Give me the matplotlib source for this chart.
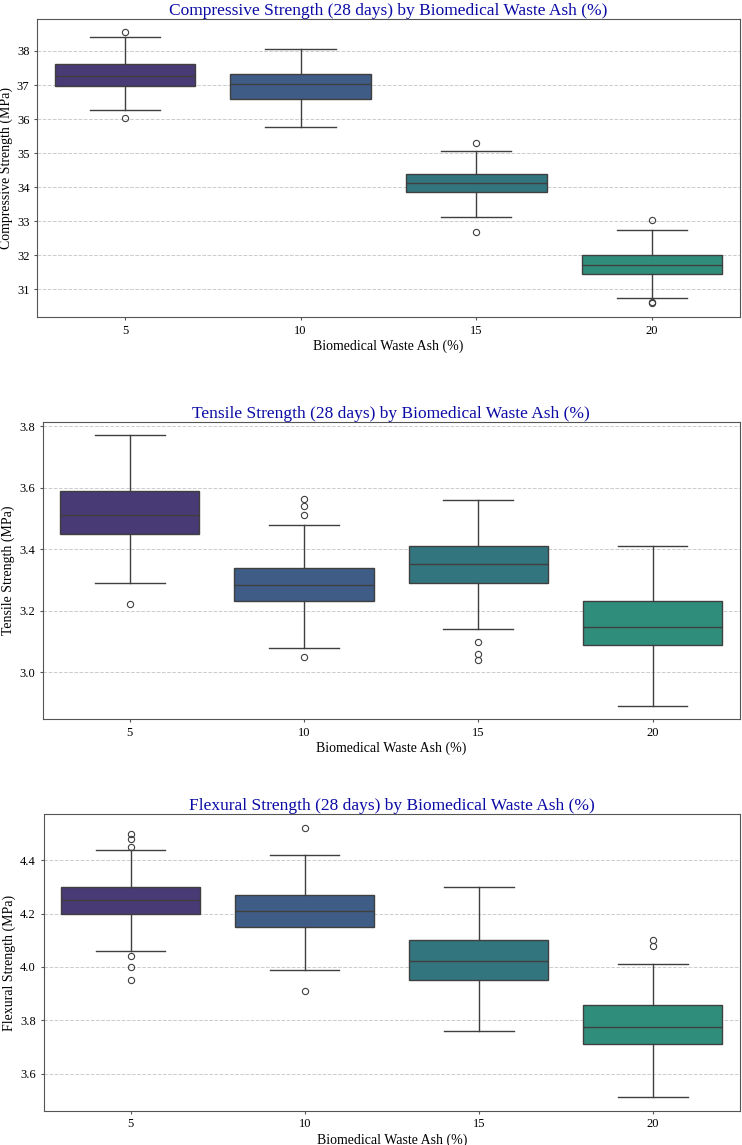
import matplotlib
matplotlib.use('Agg')
import matplotlib.pyplot as plt

plt.rcParams['font.family'] = ['Liberation Serif', 'DejaVu Serif']

ash = ['5', '10', '15', '20']
colors = ['#483a74', '#3e5c86', '#32757f', '#2f8e7b']

# compressive strength (MPa)
comp_med = [37.27, 37.03, 34.11, 31.72]
comp_q1 = [36.97, 36.60, 33.85, 31.46]
comp_q3 = [37.62, 37.32, 34.39, 32.01]
comp_lo = [36.26, 35.76, 33.11, 30.74]
comp_hi = [38.40, 38.05, 35.06, 32.75]
comp_out = [[38.56, 36.02], [], [35.30, 32.67], [33.03, 30.62, 30.58]]

# tensile strength (MPa)
tens_med = [3.51, 3.285, 3.351, 3.146]
tens_q1 = [3.449, 3.231, 3.291, 3.089]
tens_q3 = [3.589, 3.340, 3.410, 3.231]
tens_lo = [3.291, 3.080, 3.140, 2.890]
tens_hi = [3.770, 3.480, 3.560, 3.410]
tens_out = [[3.221], [3.563, 3.539, 3.51, 3.05], [3.10, 3.061, 3.04], []]

# flexural strength (MPa)
flex_med = [4.251, 4.21, 4.021, 3.776]
flex_q1 = [4.20, 4.151, 3.95, 3.71]
flex_q3 = [4.30, 4.27, 4.10, 3.857]
flex_lo = [4.06, 3.99, 3.76, 3.511]
flex_hi = [4.44, 4.42, 4.30, 4.011]
flex_out = [[4.50, 4.48, 4.45, 4.04, 4.00, 3.95], [4.52, 3.911], [], [4.10, 4.08]]

panels = [
    ('Compressive Strength (28 days) by Biomedical Waste Ash (%)', 'Compressive Strength (MPa)',
     comp_med, comp_q1, comp_q3, comp_lo, comp_hi, comp_out, (30.18, 38.94),
     [0.050, 0.7231, 0.947, 0.2603]),
    ('Tensile Strength (28 days) by Biomedical Waste Ash (%)', 'Tensile Strength (MPa)',
     tens_med, tens_q1, tens_q3, tens_lo, tens_hi, tens_out, (2.848, 3.814),
     [0.0574, 0.3718, 0.9396, 0.2599]),
    ('Flexural Strength (28 days) by Biomedical Waste Ash (%)', 'Flexural Strength (MPa)',
     flex_med, flex_q1, flex_q3, flex_lo, flex_hi, flex_out, (3.461, 4.572),
     [0.0588, 0.0300, 0.9382, 0.2588]),
]

fig = plt.figure(figsize=(7.42, 11.45), dpi=100)
line_c = '#3f3f3f'

for title, ylabel, med, q1, q3, lo, hi, out, ylim, pos in panels:
    ax = fig.add_axes(pos)
    stats = []
    for i in range(len(ash)):
        stats.append({'med': med[i], 'q1': q1[i], 'q3': q3[i],
                      'whislo': lo[i], 'whishi': hi[i], 'fliers': out[i]})
    bp = ax.bxp(stats, positions=range(len(ash)), widths=0.8, patch_artist=True,
                boxprops=dict(edgecolor=line_c, linewidth=1.0),
                medianprops=dict(color=line_c, linewidth=1.0),
                whiskerprops=dict(color=line_c, linewidth=1.0),
                capprops=dict(color=line_c, linewidth=1.0),
                flierprops=dict(marker='o', markersize=4.5, markerfacecolor='none',
                                markeredgecolor=line_c, markeredgewidth=0.8))
    for patch, c in zip(bp['boxes'], colors):
        patch.set_facecolor(c)
    ax.set_xticks(range(len(ash)))
    ax.set_xticklabels(ash)
    ax.set_xlim(-0.5, len(ash) - 0.5)
    ax.set_ylim(*ylim)
    ax.grid(axis='y', linestyle='--', color='#cccccc', linewidth=0.7)
    ax.set_axisbelow(True)
    for s in ax.spines.values():
        s.set_color('#555555')
    ax.tick_params(labelsize=9, length=2, color='#555555')
    ax.set_title(title, fontsize=12.5, color='#0a0aa5', pad=3)
    ax.set_xlabel('Biomedical Waste Ash (%)', fontsize=10, labelpad=2)
    ax.set_ylabel(ylabel, fontsize=10, labelpad=3)

fig.savefig('out.png', dpi=100)
